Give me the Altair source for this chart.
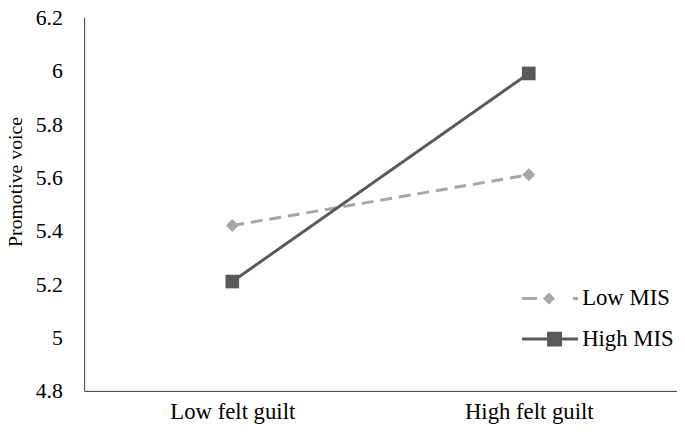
import altair as alt
import pandas as pd

categories = ["Low felt guilt", "High felt guilt"]
series = ["Low MIS", "High MIS"]
low_mis = [5.42, 5.61]
high_mis = [5.21, 5.99]
y_ticks = [4.8, 5.0, 5.2, 5.4, 5.6, 5.8, 6.0, 6.2]

rows = []
for i, c in enumerate(categories):
    rows.append({"guilt": c, "MIS": series[0], "voice": low_mis[i], "order": 0})
    rows.append({"guilt": c, "MIS": series[1], "voice": high_mis[i], "order": 1})
df = pd.DataFrame(rows)

FONT = "Liberation Serif"
colors = ["#a6a6a6", "#595959"]

x = alt.X("guilt:N", sort=categories, title=None,
          scale=alt.Scale(type="point", padding=0.5),
          axis=alt.Axis(labelAngle=0, ticks=False, tickSize=0, labelPadding=10,
                        labelFont=FONT, labelFontSize=23, labelColor="black",
                        domainColor="#3a3a3a", domainWidth=1))
y = alt.Y("voice:Q", title="Promotive voice",
          scale=alt.Scale(domain=[4.8, 6.2], nice=False, zero=False),
          axis=alt.Axis(values=y_ticks, format=".1~f", grid=False, ticks=False, tickSize=0,
                        labelPadding=22, labelFont=FONT, labelFontSize=22, labelColor="black",
                        domainColor="#3a3a3a", domainWidth=1,
                        titleFont=FONT, titleFontSize=20, titleFontWeight="normal",
                        titleColor="black", titleX=-63, titleY=166, titleAngle=270,
                        titleBaseline="alphabetic", titleAlign="center"))

# legend symbols: filled paths (line segments as thin bars + marker)
low_path = ("M-1.21,-0.055H-0.66V0.055H-1.21Z"
            "M-0.22,-0.22L0,0L-0.22,0.22L-0.44,0Z"
            "M0.66,-0.055H0.85V0.055H0.66Z")
high_path = ("M-1.21,-0.055H0.85V0.055H-1.21Z"
             "M-0.29,-0.27H0.26V0.27H-0.29Z")

legend = alt.Legend(
    title=None, orient="none", legendX=449, legendY=257,
    labelFont=FONT, labelFontSize=23, labelColor="black", labelOffset=0,
    symbolSize=3025, symbolStrokeWidth=0, symbolOpacity=1, rowPadding=1, padding=0)

color_scale = alt.Scale(domain=series, range=colors)
color_enc = alt.Color("MIS:N", scale=color_scale, legend=legend)

legend_layer = alt.Chart(df).transform_filter("false").mark_point(
    filled=True, opacity=1, strokeWidth=0).encode(
    x=x, y=y,
    color=color_enc,
    shape=alt.Shape("MIS:N", scale=alt.Scale(domain=series, range=[low_path, high_path]), legend=legend),
)
lines = alt.Chart(df).mark_line(strokeWidth=3).encode(
    x=x, y=y,
    color=color_enc,
    strokeDash=alt.StrokeDash("MIS:N", scale=alt.Scale(domain=series, range=[[12, 7], [1, 0]]), legend=None),
    order=alt.Order("order:Q"),
)
pts_low = alt.Chart(df).transform_filter(alt.datum.MIS == series[0]).mark_point(
    filled=True, opacity=1, shape="diamond", size=170).encode(
    x=x, y=y, color=color_enc)
pts_high = alt.Chart(df).transform_filter(alt.datum.MIS == series[1]).mark_point(
    filled=True, opacity=1, shape="square", size=190).encode(
    x=x, y=y, color=color_enc)

chart = alt.layer(legend_layer, lines, pts_low, pts_high).properties(
    width=600, height=378,
    padding={"left": 77, "top": 7, "right": 0, "bottom": 35},
    autosize=alt.AutoSizeParams(type="none"),
    background="white",
).configure(font=FONT).configure_view(stroke=None).configure_axis(
    labelFont=FONT, titleFont=FONT
).configure_legend(labelFont=FONT)

chart.save("out.html", embed_options={"renderer": "svg", "actions": False})
